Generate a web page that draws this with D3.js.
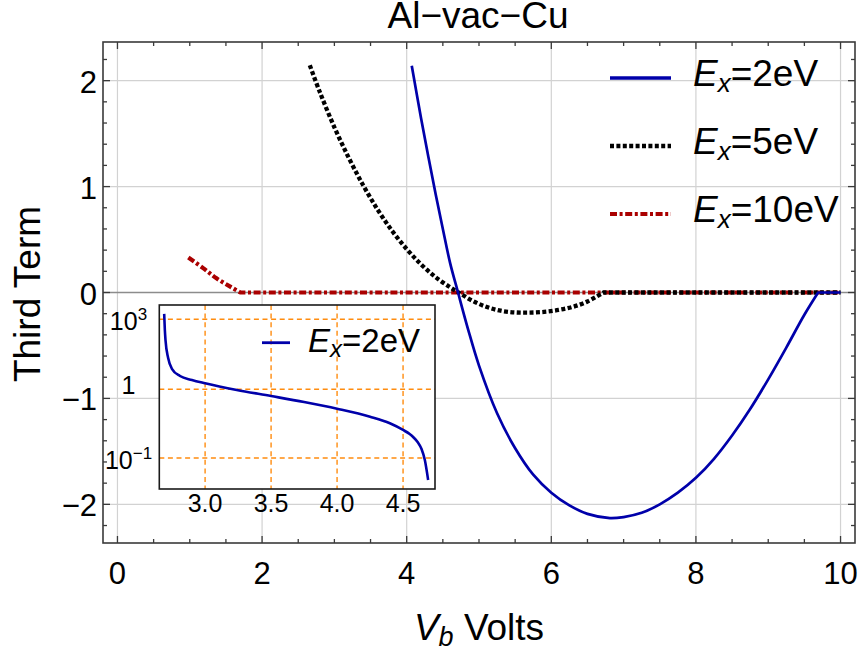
<!DOCTYPE html>
<html><head><meta charset="utf-8">
<script src="https://cdn.jsdelivr.net/npm/d3@7"></script>
<style>
body{margin:0;background:#fff}
svg{display:block}
text{font-family:"Liberation Sans",Arial,Helvetica,sans-serif;fill:#000}
</style>
</head><body>
<svg id="chart" width="860" height="655"></svg>
<script>
// ---------------- data ----------------
const titleText = "Al\u2212vac\u2212Cu";
const xTicks = [0, 2, 4, 6, 8, 10];
const yTicks = [-2, -1, 0, 1, 2];
const seriesNames = ["2eV", "5eV", "10eV"];

// E_x = 2 eV
const x2 = [4.07, 4.20, 4.30, 4.40, 4.50, 4.60, 4.71, 4.85, 5.00, 5.25, 5.50, 5.75, 6.00, 6.25, 6.50, 6.81, 7.00, 7.25, 7.50, 7.75, 8.00, 8.25, 8.50, 8.75, 9.00, 9.25, 9.50, 9.69, 10.0];
const y2 = [2.14, 1.64, 1.28, 0.93, 0.60, 0.28, 0.0, -0.35, -0.69, -1.14, -1.47, -1.72, -1.89, -2.01, -2.09, -2.13, -2.12, -2.08, -2.00, -1.89, -1.75, -1.57, -1.35, -1.10, -0.82, -0.52, -0.21, 0.0, 0.0];
// E_x = 5 eV
const x5 = [2.66, 2.80, 3.00, 3.20, 3.40, 3.60, 3.80, 4.00, 4.20, 4.40, 4.60, 4.72, 4.90, 5.10, 5.30, 5.50, 5.70, 5.90, 6.10, 6.30, 6.50, 6.72, 10.0];
const y5 = [2.146, 1.89, 1.56, 1.27, 1.01, 0.78, 0.58, 0.41, 0.265, 0.145, 0.05, 0.0, -0.075, -0.135, -0.172, -0.188, -0.19, -0.183, -0.165, -0.135, -0.085, 0.0, 0.0];
// E_x = 10 eV
const x10 = [0.98, 1.19, 1.37, 1.56, 1.70, 10.0];
const y10 = [0.33, 0.228, 0.134, 0.055, 0.0, 0.0];

// inset (E_x = 2 eV)
const insetX = [2.69, 2.695, 2.70, 2.72, 2.75, 2.81, 2.90, 3.0, 3.24, 3.5, 3.75, 4.0, 4.25, 4.40, 4.50, 4.55, 4.58, 4.61, 4.64, 4.665, 4.69];
const insetY = [1700, 347, 129, 21.9, 7.4, 3.7, 2.5, 1.81, 0.977, 0.798, 0.653, 0.522, 0.399, 0.320, 0.256, 0.223, 0.199, 0.171, 0.135, 0.0935, 0.0479];
const insetXTicks = [3.0, 3.5, 4.0, 4.5];
const insetYTicks = [1000, 1, 0.1];
const insetYTickBase = ["10", "1", "10"];
const insetYTickSup = ["3", "", "\u22121"];

// ---------------- layout ----------------
const svg = d3.select("#chart");
const L = 103, R = 855, T = 42, B = 543;
const x = d3.scaleLinear().domain([-0.2, 10.2]).range([L, R]);
const y = d3.scaleLinear().domain([-2.365, 2.365]).range([B, T]);

const defs = svg.append("defs");
defs.append("clipPath").attr("id", "clipMain")
  .append("rect").attr("x", L).attr("y", T).attr("width", R - L).attr("height", B - T);

// gridlines
const grid = svg.append("g").attr("stroke", "#d2d2d2").attr("stroke-width", 1.2);
xTicks.forEach(v => grid.append("line").attr("x1", x(v)).attr("x2", x(v)).attr("y1", T).attr("y2", B));
yTicks.filter(v => v !== 0).forEach(v => grid.append("line").attr("x1", L).attr("x2", R).attr("y1", y(v)).attr("y2", y(v)));
// zero axis
svg.append("line").attr("x1", L).attr("x2", R).attr("y1", y(0)).attr("y2", y(0))
  .attr("stroke", "#8c8c8c").attr("stroke-width", 1.4);

// curves: smooth part through the points, straight flat tail at zero
function seriesPath(xs, ys) {
  const pts = xs.map((v, i) => [v, ys[i]]);
  let k = pts.length - 1;
  while (k > 0 && ys[k - 1] === 0 && ys[k] === 0) k--;
  const smooth = d3.line().x(d => x(d[0])).y(d => y(d[1])).curve(d3.curveCatmullRom.alpha(0.5));
  let d = smooth(pts.slice(0, k + 1));
  pts.slice(k + 1).forEach(p => { d += "L" + x(p[0]) + "," + y(p[1]); });
  return d;
}
const series = [
  {xs: x2, ys: y2, color: "#0000aa", width: 2.7, dash: null},
  {xs: x5, ys: y5, color: "#000000", width: 4.3, dash: "4,2.4"},
  {xs: x10, ys: y10, color: "#aa0000", width: 4.2, dash: "7,2.6,3,2.6"}
];
const cg = svg.append("g").attr("clip-path", "url(#clipMain)");
[series[2], series[1], series[0]].forEach(s => {
  cg.append("path").attr("d", seriesPath(s.xs, s.ys))
    .attr("fill", "none").attr("stroke", s.color)
    .attr("stroke-width", s.width).attr("stroke-dasharray", s.dash)
    .attr("stroke-linejoin", "round");
});

// ---------------- inset ----------------
const IL = 159.3, IR = 435, IT = 305, IB = 489;
const xi = d3.scaleLinear().domain([2.653, 4.742]).range([IL, IR]);
const yiLin = d3.scaleLinear().domain([-1, 0, 3]).range([458, 389.3, 319.3]);
const yi = v => yiLin(Math.log10(v));
const ig = svg.append("g");
defs.append("clipPath").attr("id", "clipInset")
  .append("rect").attr("x", IL).attr("y", IT).attr("width", IR - IL).attr("height", IB - IT);
ig.append("rect").attr("x", IL).attr("y", IT).attr("width", IR - IL).attr("height", IB - IT).attr("fill", "#fff");
const og = ig.append("g").attr("stroke", "#ff8c0f").attr("stroke-width", 1.4).attr("stroke-dasharray", "5,3.6");
insetXTicks.forEach(v => og.append("line").attr("x1", xi(v)).attr("x2", xi(v)).attr("y1", IT).attr("y2", IB));
insetYTicks.forEach(v => og.append("line").attr("x1", IL).attr("x2", IR).attr("y1", yi(v)).attr("y2", yi(v)));
const lineI = d3.line().x(d => xi(d[0])).y(d => yi(d[1])).curve(d3.curveMonotoneX);
ig.append("path").datum(insetX.map((v, i) => [v, insetY[i]]))
  .attr("clip-path", "url(#clipInset)")
  .attr("d", lineI).attr("fill", "none").attr("stroke", "#0000aa").attr("stroke-width", 2.6);
ig.append("rect").attr("x", IL).attr("y", IT).attr("width", IR - IL).attr("height", IB - IT)
  .attr("fill", "none").attr("stroke", "#1a1a1a").attr("stroke-width", 1.6);
insetXTicks.forEach(v => ig.append("text").attr("x", xi(v)).attr("y", 512)
  .attr("text-anchor", "middle").attr("font-size", 25).text(v.toFixed(1)));
insetYTicks.forEach((v, i) => {
  const t = ig.append("text").attr("x", 128.5).attr("y", yi(v) + (insetYTickSup[i] ? 11 : 5))
    .attr("text-anchor", "middle").attr("font-size", 25);
  t.append("tspan").text(insetYTickBase[i]);
  if (insetYTickSup[i]) t.append("tspan").attr("font-size", 17).attr("dy", -10).text(insetYTickSup[i]);
});
// inset legend
ig.append("line").attr("x1", 262).attr("x2", 290).attr("y1", 342.7).attr("y2", 342.7)
  .attr("stroke", "#0000aa").attr("stroke-width", 2.8);
{
  const t = ig.append("text").attr("x", 308).attr("y", 351.7).attr("font-size", 33);
  t.append("tspan").attr("font-style", "italic").text("E");
  t.append("tspan").attr("font-style", "italic").attr("font-size", 24).attr("dy", 5).text("x");
  t.append("tspan").attr("dy", -5).text("=" + seriesNames[0]);
}

// ---------------- frame & ticks ----------------
const fg = svg.append("g").attr("stroke", "#3a3a3a").attr("stroke-width", 1.3);
const xMinor = d3.range(0, 10.001, 0.5);
const yMinor = d3.range(-2.2, 2.201, 0.2).map(v => Math.round(v * 10) / 10);
xMinor.forEach(v => {
  const len = xTicks.includes(v) ? 7 : 4;
  fg.append("line").attr("x1", x(v)).attr("x2", x(v)).attr("y1", B).attr("y2", B - len);
  fg.append("line").attr("x1", x(v)).attr("x2", x(v)).attr("y1", T).attr("y2", T + len);
});
yMinor.forEach(v => {
  const len = yTicks.includes(v) ? 7 : 4;
  fg.append("line").attr("x1", L).attr("x2", L + len).attr("y1", y(v)).attr("y2", y(v));
  fg.append("line").attr("x1", R).attr("x2", R - len).attr("y1", y(v)).attr("y2", y(v));
});
svg.append("rect").attr("x", L).attr("y", T).attr("width", R - L).attr("height", B - T)
  .attr("fill", "none").attr("stroke", "#3a3a3a").attr("stroke-width", 1.6);

// tick labels
const fmt = v => (v < 0 ? "\u2212" : "") + Math.abs(v);
xTicks.forEach(v => svg.append("text").attr("x", x(v)).attr("y", 583.5)
  .attr("text-anchor", "middle").attr("font-size", 31).text(fmt(v)));
yTicks.forEach(v => svg.append("text").attr("x", 97).attr("y", y(v) + 12)
  .attr("text-anchor", "end").attr("font-size", 31).text(fmt(v)));

// title and axis labels
svg.append("text").attr("x", 478).attr("y", 28).attr("text-anchor", "middle")
  .attr("font-size", 37).text(titleText);
svg.append("text").attr("transform", "translate(40,294) rotate(-90)")
  .attr("text-anchor", "middle").attr("font-size", 37).text("Third Term");
{
  const t = svg.append("text").attr("x", 479).attr("y", 640).attr("text-anchor", "middle").attr("font-size", 37);
  t.append("tspan").attr("font-style", "italic").text("V");
  t.append("tspan").attr("font-style", "italic").attr("font-size", 27).attr("dy", 6).text("b");
  t.append("tspan").attr("dy", -6).text(" Volts");
}

// legend
const lg = svg.append("g");
series.forEach((s, i) => {
  const ly = 78 + i * 68;
  lg.append("line").attr("x1", 610).attr("x2", 671).attr("y1", ly).attr("y2", ly)
    .attr("stroke", s.color).attr("stroke-width", s.dash ? s.width : 3.4)
    .attr("stroke-dasharray", s.dash);
  const t = lg.append("text").attr("x", 693).attr("y", ly + 8).attr("font-size", 37);
  t.append("tspan").attr("font-style", "italic").text("E");
  t.append("tspan").attr("font-style", "italic").attr("font-size", 26).attr("dy", 6).text("x");
  t.append("tspan").attr("dy", -6).text("=" + seriesNames[i]);
});
</script>
</body></html>
